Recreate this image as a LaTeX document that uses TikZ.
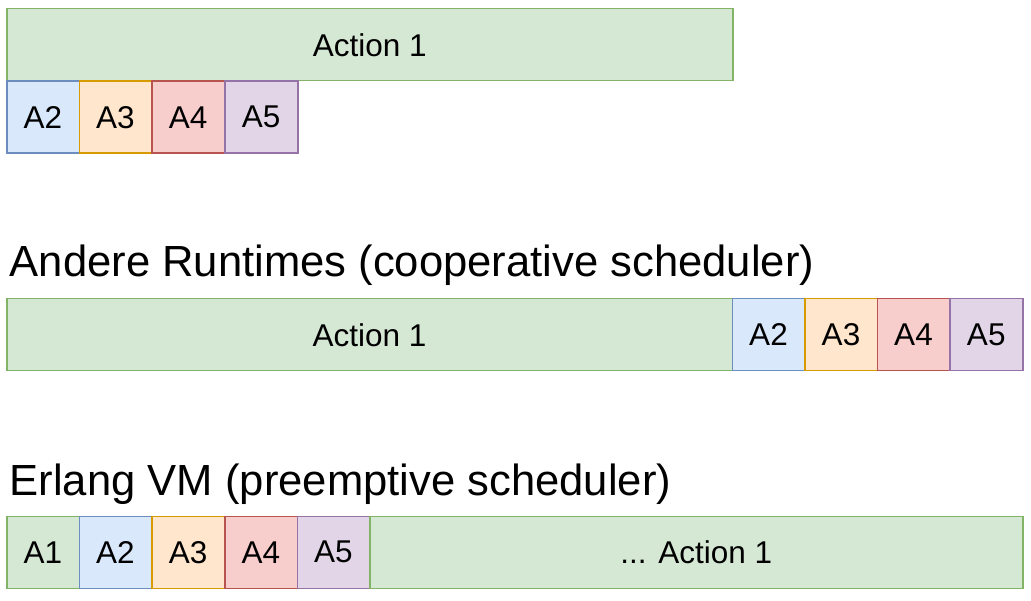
\documentclass[tikz,border=0pt]{standalone}
\usepackage{fontspec}
\setmainfont{Liberation Sans}
\definecolor{gfill}{HTML}{D5E8D4}\definecolor{gline}{HTML}{82B366}
\definecolor{bfill}{HTML}{DAE8FC}\definecolor{bline}{HTML}{6C8EBF}
\definecolor{ofill}{HTML}{FFE6CC}\definecolor{oline}{HTML}{D79B00}
\definecolor{rfill}{HTML}{F8CECC}\definecolor{rline}{HTML}{B85450}
\definecolor{pfill}{HTML}{E1D5E7}\definecolor{pline}{HTML}{9673A6}
\tikzset{
  slot/.style={rectangle, inner sep=0pt, line width=1.5pt, anchor=north west,
    font=\fontsize{31.5}{36}\selectfont},
  green/.style={slot, fill=gfill, draw=gline},
  blue/.style={slot, fill=bfill, draw=bline},
  orange/.style={slot, fill=ofill, draw=oline},
  red/.style={slot, fill=rfill, draw=rline},
  purple/.style={slot, fill=pfill, draw=pline},
  heading/.style={anchor=base west, inner sep=0pt, font=\fontsize{43.6}{48}\selectfont},
}
\newcommand{\slotbox}[6]{% style, name, x0, y0, x1, text
  \node[#1, minimum width={(#5-#3)*1pt}, minimum height=72pt] (#2) at (#3,#4) {#6};}
\begin{document}
\begin{tikzpicture}[x=1pt,y=-1pt]
\useasboundingbox (0,0) rectangle (1031,601);
% first row: one long action with the short ones waiting below
\slotbox{green}{ta1}{6}{8}{732}{Action 1}
\slotbox{blue}{ta2}{6}{80.5}{78.5}{A2}
\slotbox{orange}{ta3}{78.5}{80.5}{151}{A3}
\slotbox{red}{ta4}{151}{80.5}{224}{A4}
\slotbox{purple}{ta5}{224}{80.5}{297}{A5}
% cooperative scheduling
\node[heading] (h1) at (9.5,276.5) {Andere Runtimes (cooperative scheduler)};
\slotbox{green}{ca1}{6}{298}{731.5}{Action 1}
\slotbox{blue}{ca2}{731.5}{298}{804}{A2}
\slotbox{orange}{ca3}{804}{298}{876.5}{A3}
\slotbox{red}{ca4}{876.5}{298}{949}{A4}
\slotbox{purple}{ca5}{949}{298}{1022}{A5}
% preemptive scheduling
\node[heading] (h2) at (9.5,495) {Erlang VM (preemptive scheduler)};
\slotbox{green}{pa1}{6}{515.5}{78.5}{A1}
\slotbox{blue}{pa2}{78.5}{515.5}{151}{A2}
\slotbox{orange}{pa3}{151}{515.5}{224}{A3}
\slotbox{red}{pa4}{224}{515.5}{296.5}{A4}
\slotbox{purple}{pa5}{296.5}{515.5}{369}{A5}
\slotbox{green}{pa6}{369}{515.5}{1022}{... Action 1}
\end{tikzpicture}
\end{document}
